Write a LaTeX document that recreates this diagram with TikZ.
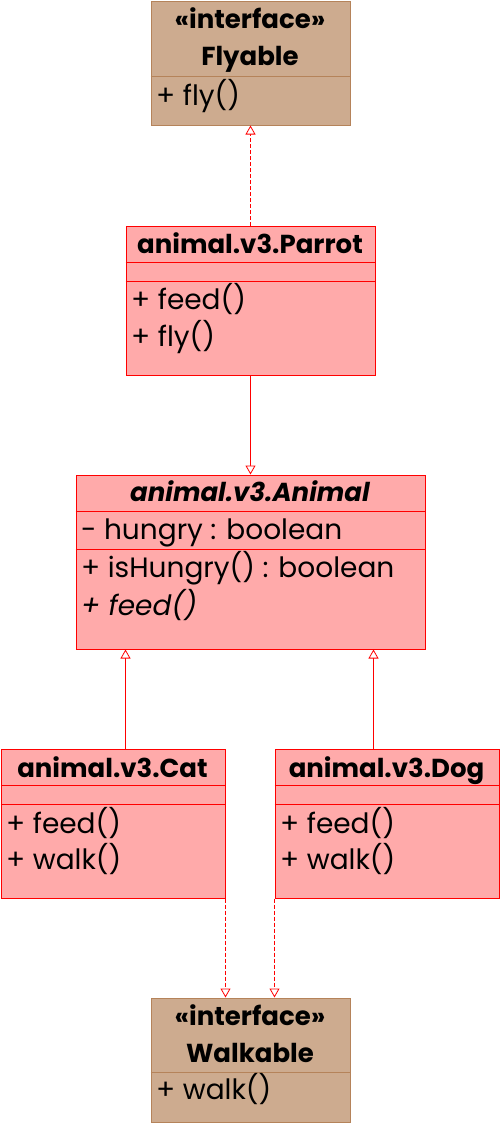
\documentclass[tikz,border=0pt]{standalone}
\usepackage{fontspec}
\setmainfont{Poppins}
\usetikzlibrary{arrows.meta}
\definecolor{pinkfill}{HTML}{FFAAAA}
\definecolor{tanfill}{HTML}{CDAB8F}
\definecolor{tanline}{HTML}{B5835A}
\begin{document}
\begin{tikzpicture}[x=1pt,y=-1pt,
  cls/.style={draw=red, fill=pinkfill, line width=1pt, inner sep=0pt, anchor=north west},
  ifc/.style={draw=tanline, fill=tanfill, line width=1pt, inner sep=0pt, anchor=north west},
  sep/.style={draw=red, line width=1pt},
  tsep/.style={draw=tanline, line width=1pt},
  title/.style={font=\fontsize{26}{30}\selectfont\bfseries, inner sep=0pt, anchor=base},
  member/.style={font=\fontsize{28}{30}\selectfont, inner sep=0pt, anchor=base west},
  realize/.style={draw=red, line width=1pt, dash pattern=on 4pt off 2pt, -{Triangle[fill=white, length=9pt, width=10pt, line width=0.8pt]}},
  inherit/.style={draw=red, line width=1pt, -{Triangle[fill=white, length=9pt, width=10pt, line width=0.8pt]}}
]
\useasboundingbox (0,0) rectangle (500,1125);

% Flyable
\node[ifc, minimum width=199pt, minimum height=124pt] (fly) at (150.5,0.5) {};
\draw[tsep] (150.5,76) -- (349.5,76);
\node[title] (flyS) at (250,28) {«interface»};
\node[title] (flyN) at (250,65) {Flyable};
\node[member] (flyM) at (156,105) {+ fly()};

% Parrot
\node[cls, minimum width=249pt, minimum height=149pt] (parrot) at (125.5,225.5) {};
\draw[sep] (125.5,262.5) -- (374.5,262.5);
\draw[sep] (125.5,281.5) -- (374.5,281.5);
\node[title] (parrotN) at (250,253) {animal.v3.Parrot};
\node[member] (parrotM1) at (131,309) {+ feed()};
\node[member] (parrotM2) at (131,346) {+ fly()};

% Animal
\node[cls, minimum width=349pt, minimum height=174pt] (animal) at (75.5,474.5) {};
\draw[sep] (75.5,511.5) -- (424.5,511.5);
\draw[sep] (75.5,549.5) -- (424.5,549.5);
\node[title, font=\fontsize{26}{30}\selectfont\bfseries\itshape] (animalN) at (250,501) {animal.v3.Animal};
\node[member] (animalA) at (81,539) {- hungry : boolean};
\node[member] (animalM1) at (81,577) {+ isHungry() : boolean};
\node[member, font=\fontsize{28}{30}\selectfont\itshape] (animalM2) at (81,615) {+ feed()};

% Cat
\node[cls, minimum width=224pt, minimum height=149pt] (cat) at (0.5,748.5) {};
\draw[sep] (0.5,785.5) -- (224.5,785.5);
\draw[sep] (0.5,804.5) -- (224.5,804.5);
\node[title] (catN) at (112.5,777) {animal.v3.Cat};
\node[member] (catM1) at (6,833) {+ feed()};
\node[member] (catM2) at (6,869) {+ walk()};

% Dog
\node[cls, minimum width=224pt, minimum height=149pt] (dog) at (274.5,748.5) {};
\draw[sep] (274.5,785.5) -- (498.5,785.5);
\draw[sep] (274.5,804.5) -- (498.5,804.5);
\node[title] (dogN) at (386.5,777) {animal.v3.Dog};
\node[member] (dogM1) at (280,833) {+ feed()};
\node[member] (dogM2) at (280,869) {+ walk()};

% Walkable
\node[ifc, minimum width=199pt, minimum height=124pt] (walk) at (150.5,997.5) {};
\draw[tsep] (150.5,1072.5) -- (349.5,1072.5);
\node[title] (walkS) at (250,1025) {«interface»};
\node[title] (walkN) at (250,1062) {Walkable};
\node[member] (walkM) at (156,1099) {+ walk()};

% connectors
\coordinate (catTop) at (125.5,748.5);
\coordinate (dogTop) at (373.5,748.5);
\draw[realize] (parrot.north) -- (fly.south);
\draw[inherit] (parrot.south) -- (animal.north);
\draw[inherit] (catTop) -- (catTop |- animal.south);
\draw[inherit] (dogTop) -- (dogTop |- animal.south);
\draw[realize] (cat.south east) -- (cat.south east |- walk.north);
\draw[realize] (dog.south west) -- (dog.south west |- walk.north);
\end{tikzpicture}
\end{document}
